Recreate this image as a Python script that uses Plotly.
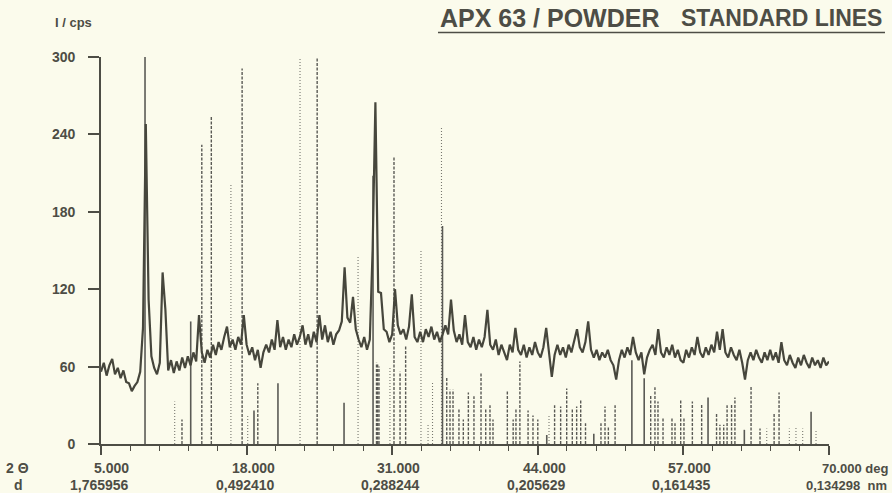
import plotly.graph_objects as go

# ---------------- data ----------------
scan_start = 5.0
scan_step = 0.25
intensity = [
    56, 63, 53, 61, 66, 54, 59, 51, 57, 48, 47, 41, 45, 48, 56, 90, 248, 112, 68, 59,
    54, 63, 133, 104, 57, 65, 55, 64, 57, 67, 59, 68, 61, 71, 64, 100, 71, 63, 73, 67,
    77, 69, 79, 73, 83, 91, 75, 81, 73, 83, 77, 100, 77, 69, 75, 65, 73, 59, 71, 77,
    71, 81, 73, 96, 75, 83, 73, 81, 75, 85, 77, 83, 92, 77, 85, 75, 87, 79, 100, 81,
    92, 79, 87, 77, 85, 88, 95, 137, 98, 94, 114, 89, 81, 75, 83, 73, 81, 150, 265, 118,
    117, 89, 87, 79, 85, 120, 92, 85, 89, 81, 91, 116, 83, 79, 87, 79, 89, 83, 91, 81,
    87, 79, 85, 92, 85, 112, 88, 79, 85, 77, 100, 79, 75, 83, 73, 81, 75, 83, 104, 77,
    73, 81, 69, 77, 71, 65, 77, 71, 90, 73, 69, 77, 67, 75, 69, 79, 71, 67, 75, 90,
    71, 52, 69, 77, 69, 75, 67, 77, 71, 79, 89, 75, 71, 79, 95, 73, 67, 73, 65, 71,
    67, 73, 65, 61, 50, 65, 73, 67, 75, 69, 83, 71, 65, 71, 54, 67, 73, 77, 69, 89,
    71, 67, 75, 69, 77, 67, 73, 65, 63, 73, 67, 75, 69, 83, 71, 67, 75, 69, 77, 71,
    87, 73, 89, 71, 67, 75, 69, 65, 73, 63, 50, 65, 71, 65, 73, 67, 63, 71, 65, 73,
    65, 71, 63, 79, 65, 61, 69, 63, 59, 67, 61, 69, 63, 59, 67, 61, 65, 59, 67, 61, 64,
]
two_theta = [scan_start + scan_step * i for i in range(len(intensity))]

# standard (reference) lines: position (deg 2θ), height (cps scale), line style
std_pos = [8.93, 11.58, 12.23, 13.01, 14.0, 14.85, 16.6, 17.6, 18.1, 18.66, 19.0, 20.8,
           22.77, 24.3, 26.7, 27.95, 29.29, 29.6, 29.7, 29.82, 30.8, 31.16, 31.7, 32.2,
           33.57, 34.2, 34.6, 35.4, 35.49, 35.87, 36.16, 36.43, 36.96, 37.35, 37.8, 38.3,
           38.93, 39.35, 39.73, 40.0, 41.28, 41.8, 42.05, 42.4, 43.13, 43.57, 44.0, 44.8,
           45.0, 45.5, 46.04, 46.58, 47.08, 47.47, 47.83, 48.26, 49.0, 49.64, 50.0, 50.3,
           50.9, 52.4, 53.5, 54.08, 54.46, 54.73, 55.18, 55.98, 56.25, 56.76, 57.05, 57.8,
           58.63, 59.2, 59.96, 60.26, 60.6, 60.9, 61.3, 61.6, 62.44, 63.04, 63.84, 64.44,
           65.1, 65.54, 66.46, 67.05, 67.65, 68.4, 68.84]
std_int = [300, 33, 19, 95, 232, 254, 201, 291, 22, 26, 47, 47,
           300, 300, 32, 146, 208, 63, 62, 60, 60, 223, 56, 76,
           150, 15, 48, 246, 169, 52, 42, 42, 28, 19, 40, 37,
           55, 28, 30, 19, 41, 19, 28, 64, 26, 22, 19, 7,
           22, 30, 29, 43, 28, 29, 34, 16, 8, 16, 29, 14,
           30, 65, 51, 38, 44, 33, 21, 21, 16, 34, 21, 33,
           31, 36, 24, 15, 15, 30, 31, 36, 11, 45, 12, 12,
           24, 40, 12, 14, 12, 25, 10]
std_style = ["solid", "dot", "dash", "solid", "dash", "dash", "dot", "dash", "dot", "solid", "dash", "solid",
             "dot", "dash", "solid", "dot", "solid", "dash", "dash", "dash", "dot", "dash", "dash", "dash",
             "dot", "dot", "dot", "dot", "solid", "dash", "dash", "dash", "dash", "dash", "dash", "dash",
             "dash", "dash", "dash", "dash", "dash", "dash", "dash", "dash", "dash", "dash", "dash", "solid",
             "dot", "dash", "dash", "dash", "dash", "dash", "dash", "dash", "solid", "dash", "dash", "dash",
             "dash", "solid", "solid", "dash", "dash", "dash", "dash", "dash", "dash", "dash", "dash", "dash",
             "dash", "solid", "dash", "dash", "dash", "dash", "dash", "dash", "solid", "dash", "dash", "dot",
             "dash", "dash", "dot", "dot", "dot", "solid", "dot"]

x_ticks = [5, 18, 31, 44, 57, 70]
x_tick_labels = ["5.000", "18.000", "31.000", "44.000", "57.000", "70.000"]
d_labels = ["1,765956", "0,492410", "0,288244", "0,205629", "0,161435", "0,134298"]
y_ticks = [0, 60, 120, 180, 240, 300]

# ---------------- styling ----------------
BG = "#fbfbec"
INK = "#4d4d45"
LINE = "#5a5a55"
FONT = "Liberation Sans, Arial, sans-serif"

fig = go.Figure()

# standard lines grouped by dash style
for style, dash, width, col in [("dot", "1px,2px", 1.1, "#77776f"),
                                ("dash", "3px,1.5px", 1.4, LINE),
                                ("solid", "solid", 1.6, LINE)]:
    xs, ys = [], []
    for p, h, s in zip(std_pos, std_int, std_style):
        if s == style:
            xs += [p, p, None]
            ys += [0, h, None]
    fig.add_trace(go.Scatter(x=xs, y=ys, mode="lines",
                             line=dict(color=col, width=width, dash=dash),
                             hoverinfo="skip", showlegend=False))

# measured diffractogram
fig.add_trace(go.Scatter(x=two_theta, y=intensity, mode="lines",
                         line=dict(color="#46463c", width=2.2),
                         showlegend=False))

fig.update_layout(
    width=892, height=493,
    margin=dict(l=101, r=63, t=57, b=49),
    paper_bgcolor=BG, plot_bgcolor=BG,
    font=dict(family=FONT, color=INK, size=14),
    showlegend=False,
)

fig.update_xaxes(
    range=[5, 70], showgrid=False, zeroline=False,
    showline=True, linecolor=INK, linewidth=1.6,
    tickmode="array", tickvals=x_ticks, ticks="outside", ticklen=9, tickwidth=1.6,
    tickcolor=INK, showticklabels=False,
    minor=dict(tick0=5, dtick=2.6, ticks="outside", ticklen=5, tickwidth=1.4, tickcolor=INK),
)
fig.update_yaxes(
    range=[0, 300], showgrid=False, zeroline=False,
    showline=True, linecolor=INK, linewidth=1.6,
    tickmode="array", tickvals=y_ticks, ticks="outside", ticklen=11, tickwidth=1.6,
    tickcolor=INK, ticklabelstandoff=10,
    tickfont=dict(family=FONT, size=14, color=INK, weight="bold"),
)

ann = []
for xv, t, d in zip(x_ticks[:-1], x_tick_labels[:-1], d_labels[:-1]):
    ann.append(dict(x=xv, y=0, xref="x", yref="paper", text=t, showarrow=False,
                    xanchor="right", yanchor="middle", xshift=30, yshift=-24))
    ann.append(dict(x=xv, y=0, xref="x", yref="paper", text=d, showarrow=False,
                    xanchor="right", yanchor="middle", xshift=30, yshift=-41))
# last tick with units (right-aligned to the page edge)
ann.append(dict(x=1.0852, y=0, xref="paper", yref="paper", text=x_tick_labels[-1] + " deg",
                showarrow=False, xanchor="right", yanchor="middle", yshift=-24,
                font=dict(size=13)))
ann.append(dict(x=1.0824, y=0, xref="paper", yref="paper", text=d_labels[-1] + "  nm",
                showarrow=False, xanchor="right", yanchor="middle", yshift=-41,
                font=dict(size=13)))
# row captions
ann.append(dict(x=-0.1332, y=0, xref="paper", yref="paper", text="2 \u0398", showarrow=False,
                xanchor="left", yanchor="middle", yshift=-24))
ann.append(dict(x=-0.1223, y=0, xref="paper", yref="paper", text="d", showarrow=False,
                xanchor="left", yanchor="middle", yshift=-41))
# y unit
ann.append(dict(x=-0.0659, y=1.0904, xref="paper", yref="paper", text="I / cps",
                showarrow=False, xanchor="left", yanchor="middle", font=dict(size=13)))
# title
ann.append(dict(x=0.4629, y=1.101, xref="paper", yref="paper", text="APX 63 / POWDER",
                showarrow=False, xanchor="left", yanchor="middle",
                font=dict(size=25)))
ann.append(dict(x=1.0755, y=1.101, xref="paper", yref="paper", text="STANDARD LINES",
                showarrow=False, xanchor="right", yanchor="middle",
                font=dict(size=23)))
for a in ann:
    a.setdefault("font", dict(size=14))
    a["font"]["weight"] = "bold"
fig.update_layout(annotations=ann)

# title underline
fig.add_shape(type="line", xref="paper", yref="paper", x0=0.4629, x1=1.0769,
              y0=1.0633, y1=1.0633, line=dict(color=INK, width=1.6))

fig.write_html("out.html", config={"displayModeBar": False},
               post_script="document.body.style.margin='0';document.body.style.overflow='hidden';")
